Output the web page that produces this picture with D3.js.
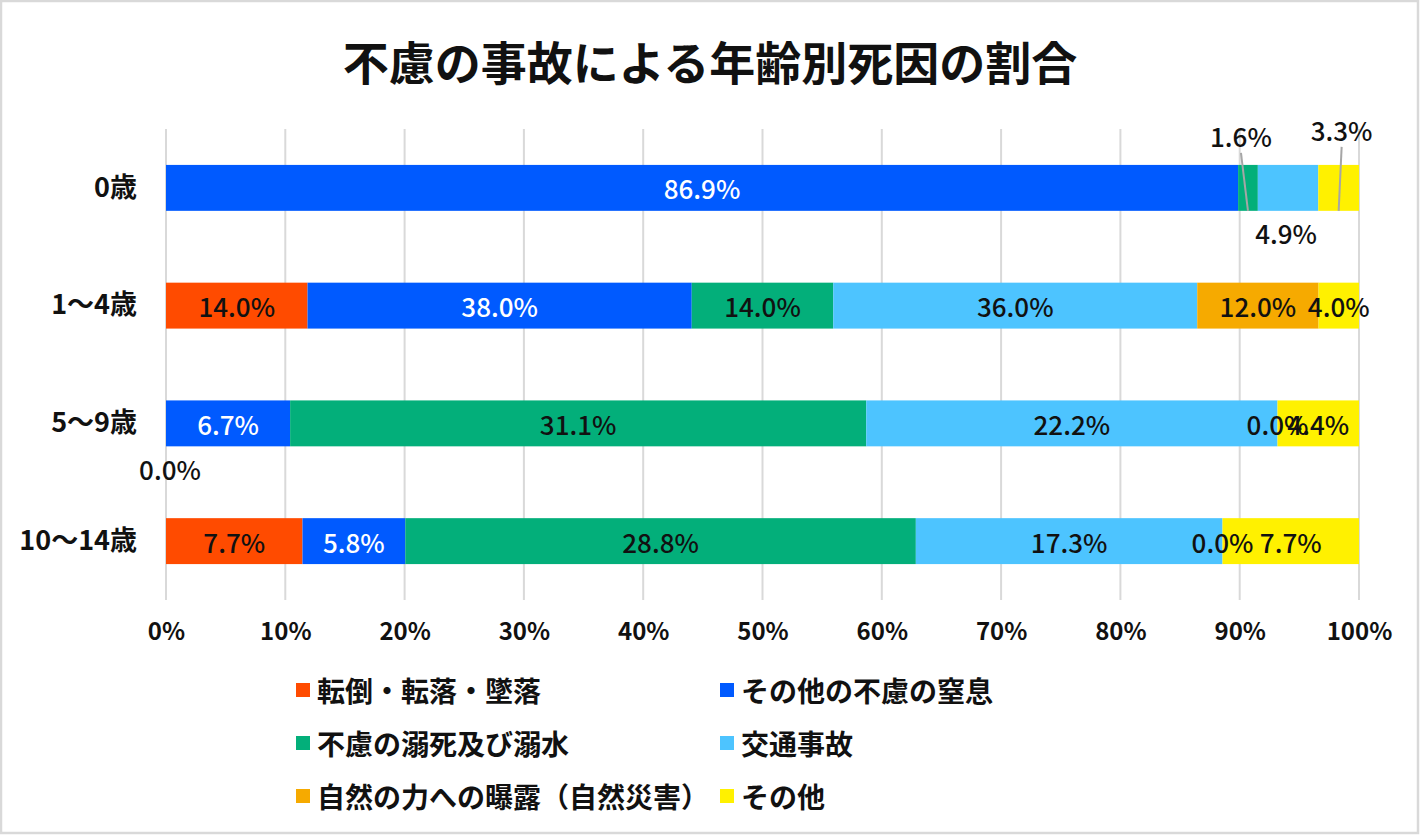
<!DOCTYPE html>
<html><head><meta charset="utf-8">
<script src="https://cdn.jsdelivr.net/npm/d3@7"></script>
<style>
html,body{margin:0;padding:0;background:#fff;}
text{font-family:"Noto Sans CJK JP","Noto Sans",sans-serif;}
</style></head>
<body><svg id="c" width="1420" height="835"></svg>
<script>
const title = "不慮の事故による年齢別死因の割合";
const categories = ["0歳", "1～4歳", "5～9歳", "10～14歳"];
const seriesNames = ["転倒・転落・墜落", "その他の不慮の窒息", "不慮の溺死及び溺水", "交通事故", "自然の力への曝露（自然災害）", "その他"];
const seriesColors = ["#FF4B00", "#005AFF", "#03AF7A", "#4DC4FF", "#F6AA00", "#FFF100"];
const labelColors = ["#111", "#fff", "#111", "#111", "#111", "#111"];
const fallValues = [null, 14.0, 0.0, 7.7];
const chokeValues = [86.9, 38.0, 6.7, 5.8];
const drownValues = [1.6, 14.0, 31.1, 28.8];
const trafficValues = [4.9, 36.0, 22.2, 17.3];
const natureValues = [null, 12.0, 0.0, 0.0];
const otherValues = [3.3, 4.0, 4.4, 7.7];
const tickValues = [0, 0.1, 0.2, 0.3, 0.4, 0.5, 0.6, 0.7, 0.8, 0.9, 1.0];

const seriesValues = [fallValues, chokeValues, drownValues, trafficValues, natureValues, otherValues];

// label placement overrides (series index, category index) -> offset & leader line
const labelOverrides = {
  "2-0": {dx: -7, dy: -52, leader: true},
  "3-0": {dx: -2, dy: 45, leader: false},
  "5-0": {dx: 3, dy: -58, leader: true},
  "0-2": {dx: 4, dy: 45, leader: false}
};

const svg = d3.select("#c");
const W = 1420, H = 835;
svg.append("rect").attr("x",1).attr("y",1).attr("width",W-3).attr("height",H-3)
  .attr("fill","#fff").attr("stroke","#d9d9d9").attr("stroke-width",2.5);

svg.append("text").attr("x",710).attr("y",60).attr("text-anchor","middle")
  .attr("dominant-baseline","central").attr("font-size",46).attr("font-weight",700)
  .attr("fill","#111").text(title);

const x = d3.scaleLinear().domain([0,1]).range([166,1359]);
const y = d3.scaleBand().domain(categories).range([129,600]).paddingInner(0.61).paddingOuter(0.305);

// gridlines
svg.append("g").selectAll("line").data(tickValues).join("line")
  .attr("x1",d=>x(d)).attr("x2",d=>x(d)).attr("y1",129).attr("y2",600)
  .attr("stroke","#d9d9d9").attr("stroke-width",2);

// x axis labels
const xAxis = d3.axisBottom(x).tickValues(tickValues).tickFormat(d3.format(".0%")).tickSize(0).tickPadding(0);
const gx = svg.append("g").attr("transform","translate(0,623)").call(xAxis);
gx.select(".domain").remove();
gx.selectAll("text").attr("font-size",24).attr("font-weight",700).attr("fill","#111")
  .attr("font-family",'"Noto Sans CJK JP",sans-serif');

// y axis labels
const yAxis = d3.axisLeft(y).tickSize(0).tickPadding(0);
const gy = svg.append("g").attr("transform","translate(137,0)").call(yAxis);
gy.select(".domain").remove();
gy.selectAll("text").attr("font-size",27).attr("font-weight",700).attr("fill","#111")
  .attr("font-family",'"Noto Sans CJK JP",sans-serif');

// build stacked data (percent of row total)
const rows = categories.map((c,ci)=>{
  const row = {cat:c};
  seriesNames.forEach((s,si)=>{ row[s] = seriesValues[si][ci] == null ? 0 : seriesValues[si][ci]; });
  return row;
});
const stack = d3.stack().keys(seriesNames).offset(d3.stackOffsetExpand);
const stacked = stack(rows);

const bars = svg.append("g");
stacked.forEach((layer,si)=>{
  bars.append("g").attr("fill",seriesColors[si]).selectAll("rect").data(layer).join("rect")
    .attr("x",d=>x(d[0])).attr("width",d=>Math.max(0,x(d[1])-x(d[0])))
    .attr("y",d=>y(d.data.cat)).attr("height",y.bandwidth());
});

// labels
const lbl = svg.append("g");
stacked.forEach((layer,si)=>{
  layer.forEach((d,ci)=>{
    const v = seriesValues[si][ci];
    if (v == null) return;
    const key = si+"-"+ci;
    const o = labelOverrides[key];
    const cx = (x(d[0])+x(d[1]))/2;
    const cy = y(d.data.cat)+y.bandwidth()/2;
    let tx = cx, ty = cy, col = labelColors[si];
    if (o) {
      tx = cx + o.dx; ty = cy + o.dy; col = "#111";
      if (o.leader) {
        const barTop = y(d.data.cat), barBot = barTop + y.bandwidth();
        lbl.append("line").attr("x1",tx).attr("y1",ty+ (o.dy<0?17:-17))
          .attr("x2",cx).attr("y2",o.dy<0?barBot:barTop)
          .attr("stroke","#a6a6a6").attr("stroke-width",2);
      }
    }
    lbl.append("text").attr("x",tx).attr("y",ty).attr("text-anchor","middle")
      .attr("dominant-baseline","central").attr("font-size",26).attr("font-weight",500)
      .attr("fill",col).text(v.toFixed(1)+"%");
  });
});

// legend
const legendPos = [[296,690],[720,690],[296,743],[720,743],[296,796],[720,796]];
const lg = svg.append("g");
seriesNames.forEach((s,i)=>{
  const [lx,ly] = legendPos[i];
  lg.append("rect").attr("x",lx).attr("y",ly-7).attr("width",14).attr("height",14).attr("fill",seriesColors[i]);
  lg.append("text").attr("x",lx+21).attr("y",ly).attr("dominant-baseline","central")
    .attr("font-size",28).attr("font-weight",700).attr("fill","#111").text(s);
});
</script></body></html>
